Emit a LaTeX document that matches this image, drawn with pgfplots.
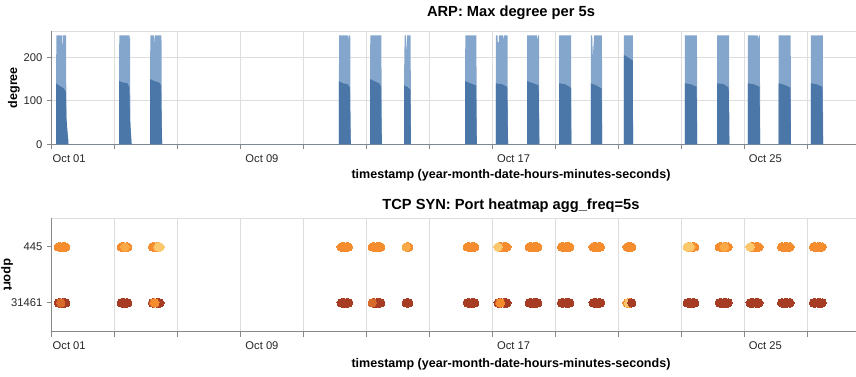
\documentclass[border=0pt]{standalone}
\usepackage{fontspec}
\setmainfont{Liberation Sans}
\usepackage{pgfplots}
\pgfplotsset{compat=1.18}
\definecolor{gridc}{HTML}{DDDDDD}
\definecolor{domc}{HTML}{888888}
\definecolor{barlight}{HTML}{84A6CC}
\definecolor{bardark}{HTML}{4A77A7}
\definecolor{or1}{HTML}{F58C2D}
\definecolor{or2}{HTML}{F9AA46}
\definecolor{ye1}{HTML}{FCC86E}
\definecolor{rd1}{HTML}{A53C23}
\definecolor{rd2}{HTML}{D86A2C}
\pgfplotsset{
  dot/.style={only marks, mark=*, mark size=3.1pt, color=#1, mark options={solid, draw=#1, fill=#1, line width=0pt}},
}
\pgfplotsset{
  common/.style={
    scale only axis, width=688.5pt, height=85pt,
    xmin=0, xmax=29.18,
    axis x line*=bottom, axis y line*=left,
    axis line style={domc, line width=0.75pt, -},
    tick style={domc, line width=0.75pt},
    tick align=outside, major tick length=3.75pt,
    xtick={0,2,...,28},
    xticklabels={\hspace{-3pt}Oct 01,,,Oct 09,,,,Oct 17,,,,Oct 25,,,},
    xmajorgrids, grid style={gridc, line width=0.75pt},
    ticklabel style={font=\fontsize{8.4}{10}\selectfont, text=black!85},
    xticklabel style={anchor=base west, yshift=-9.75pt},
    /pgf/number format/assume math mode=true,
    every axis x label/.style={at={(axis description cs:0.5,0)}, anchor=base, yshift=-25.5pt,
      font=\bfseries\fontsize{9.4}{11}\selectfont},
    every axis title/.style={at={(axis description cs:0.5,1)}, anchor=base,
      font=\bfseries\fontsize{11}{13}\selectfont},
  }
}
\begin{document}
\begin{tikzpicture}
\useasboundingbox (0,0) rectangle (642pt,-282pt);
\clip (0,0) rectangle (642pt,-282pt);
% ---------- top chart ----------
\begin{axis}[common,
  at={(39pt,-23.25pt)}, anchor=north west,
  ymin=0, ymax=260, ytick={0,100,200},
  ymajorgrids,
  title={ARP: Max degree per 5s},
  title style={yshift=11.25pt},
  xlabel={timestamp (year-month-date-hours-minutes-seconds)},
  ylabel={degree},
  every axis y label/.style={at={(axis description cs:-0.0414,0.5)}, anchor=center, rotate=90,
      font=\bfseries\fontsize{9.4}{11}\selectfont},
]
\draw[gridc, line width=0.75pt] (rel axis cs:0,1) -- (rel axis cs:1,1);
\addplot[fill=barlight, draw=none] coordinates {
(0.13,0)(0.13,160)(0.14,250)(0.31,250)(0.325,212)(0.34,250)(0.45,250)(0.455,60)(0.49,25)(0.52,10)(0.52,0)
(2.13,0)(2.13,170)(2.14,250)(2.46,250)(2.47,230)(2.48,250)(2.49,60)(2.51,25)(2.53,0)
(3.12,0)(3.12,200)(3.13,250)(3.24,250)(3.255,228)(3.27,250)(3.48,250)(3.49,40)(3.50,0)
(9.12,0)(9.12,160)(9.13,250)(9.40,250)(9.41,240)(9.43,250)(9.48,250)(9.49,30)(9.50,0)
(10.11,0)(10.11,200)(10.12,250)(10.47,250)(10.48,30)(10.49,0)
(11.19,0)(11.19,150)(11.21,250)(11.25,250)(11.27,205)(11.29,250)(11.40,250)(11.41,0)
(13.13,0)(13.13,180)(13.14,250)(13.49,250)(13.50,20)(13.51,0)
(14.11,0)(14.11,250)(14.16,250)(14.17,232)(14.20,235)(14.21,250)(14.34,250)(14.35,236)(14.37,250)(14.48,250)(14.49,20)(14.50,0)
(15.10,0)(15.10,250)(15.41,250)(15.43,238)(15.45,250)(15.48,250)(15.49,0)
(16.12,0)(16.12,250)(16.50,250)(16.51,0)
(17.13,0)(17.13,250)(17.17,250)(17.19,200)(17.22,235)(17.23,250)(17.48,250)(17.49,0)
(18.18,0)(18.18,250)(18.46,250)(18.47,0)
(20.12,0)(20.12,250)(20.50,250)(20.51,0)
(21.14,0)(21.14,250)(21.52,250)(21.53,0)
(22.12,0)(22.12,250)(22.43,250)(22.45,240)(22.47,250)(22.50,250)(22.51,0)
(23.10,0)(23.10,250)(23.48,250)(23.49,0)
(24.12,0)(24.12,250)(24.50,250)(24.51,0)
} \closedcycle;
\addplot[fill=bardark, draw=none] coordinates {
(0.13,0)(0.13,140)(0.20,136)(0.30,132)(0.38,128)(0.44,120)(0.46,60)(0.50,22)(0.52,0)
(2.13,0)(2.13,145)(2.25,142)(2.40,140)(2.46,130)(2.48,50)(2.51,22)(2.53,0)
(3.12,0)(3.12,150)(3.25,145)(3.40,142)(3.47,135)(3.49,30)(3.50,0)
(9.12,0)(9.12,145)(9.25,140)(9.40,138)(9.47,130)(9.49,25)(9.50,0)
(10.11,0)(10.11,150)(10.25,145)(10.40,140)(10.46,132)(10.48,25)(10.49,0)
(11.19,0)(11.19,135)(11.30,132)(11.39,125)(11.41,0)
(13.13,0)(13.13,145)(13.30,140)(13.48,135)(13.50,20)(13.51,0)
(14.11,0)(14.11,140)(14.30,138)(14.47,132)(14.49,20)(14.50,0)
(15.10,0)(15.10,145)(15.30,140)(15.47,135)(15.49,0)
(16.12,0)(16.12,140)(16.30,138)(16.49,130)(16.51,0)
(17.13,0)(17.13,140)(17.30,135)(17.47,128)(17.49,0)
(18.18,0)(18.18,205)(18.30,200)(18.46,192)(18.47,0)
(20.12,0)(20.12,140)(20.30,138)(20.49,132)(20.51,0)
(21.14,0)(21.14,140)(21.35,138)(21.51,130)(21.53,0)
(22.12,0)(22.12,140)(22.30,138)(22.49,132)(22.51,0)
(23.10,0)(23.10,140)(23.30,136)(23.47,130)(23.49,0)
(24.12,0)(24.12,140)(24.30,138)(24.49,132)(24.51,0)
} \closedcycle;
\end{axis}
% ---------- bottom chart ----------
\begin{axis}[common,
  at={(39pt,-163.7pt)}, anchor=north west,
  ymin=-0.513, ymax=1.513, ytick={0,1}, yticklabels={31461,445},
  title={TCP SYN: Port heatmap agg\_freq=5s},
  title style={yshift=6.75pt},
  xlabel={timestamp (year-month-date-hours-minutes-seconds)},
  every axis x label/.style={at={(axis description cs:0.5,0)}, anchor=base, yshift=-27pt,
      font=\bfseries\fontsize{9.4}{11}\selectfont},
  ylabel={dport},
  every axis y label/.style={at={(axis description cs:-0.049,0.5)}, anchor=center, rotate=-90,
      font=\bfseries\fontsize{9.4}{11}\selectfont},
]
\draw[gridc, line width=0.75pt] (rel axis cs:0,1) -- (rel axis cs:1,1);
% port 445
\addplot[dot=or1] coordinates {
(0.20,1)(0.24,1)(0.28,1)(0.32,1)(0.36,1)(0.40,1)(0.44,1)
(2.20,1)(2.24,1)(2.28,1)(2.32,1)(2.36,1)(2.41,1)
(3.19,1)(3.23,1)(3.27,1)(3.31,1)(3.35,1)(3.39,1)(3.43,1)
(9.19,1)(9.23,1)(9.27,1)(9.31,1)(9.35,1)(9.39,1)(9.43,1)
(10.18,1)(10.22,1)(10.26,1)(10.30,1)(10.34,1)(10.38,1)(10.42,1)(10.45,1)
(11.26,1)(11.30,1)(11.34,1)
(13.20,1)(13.24,1)(13.28,1)(13.32,1)(13.36,1)(13.40,1)(13.44,1)
(14.18,1)(14.22,1)(14.26,1)(14.30,1)(14.34,1)(14.38,1)(14.42,1)(14.46,1)
(15.17,1)(15.21,1)(15.25,1)(15.29,1)(15.33,1)(15.37,1)(15.41,1)(15.44,1)
(16.19,1)(16.23,1)(16.27,1)(16.31,1)(16.35,1)(16.39,1)(16.43,1)(16.46,1)
(17.20,1)(17.24,1)(17.28,1)(17.32,1)(17.36,1)(17.40,1)(17.44,1)
(18.28,1)(18.32,1)(18.36,1)(18.40,1)(18.43,1)
(20.19,1)(20.23,1)(20.27,1)(20.31,1)(20.35,1)(20.39,1)(20.43,1)
(21.21,1)(21.25,1)(21.29,1)(21.33,1)(21.37,1)(21.41,1)(21.45,1)(21.49,1)
(22.19,1)(22.23,1)(22.27,1)(22.31,1)(22.35,1)(22.39,1)(22.43,1)(22.47,1)
(23.19,1)(23.23,1)(23.27,1)(23.31,1)(23.35,1)(23.39,1)(23.43,1)(23.46,1)
(24.20,1)(24.24,1)(24.28,1)(24.32,1)(24.36,1)(24.40,1)(24.44,1)(24.48,1)
};
\addplot[dot=or2] coordinates {
(2.32,1)(3.35,1)(11.26,1)(20.23,1)(20.31,1)(21.37,1)
};
\addplot[dot=ye1] coordinates {
(3.39,1)(3.43,1)(14.18,1)(20.19,1)(20.27,1)(22.19,1)
};
% port 31461
\addplot[dot=rd1] coordinates {
(0.20,0)(0.24,0)(0.28,0)(0.32,0)(0.36,0)(0.40,0)(0.44,0)
(2.20,0)(2.24,0)(2.28,0)(2.32,0)(2.36,0)(2.41,0)
(3.19,0)(3.23,0)(3.27,0)(3.31,0)(3.35,0)(3.39,0)(3.43,0)
(9.19,0)(9.23,0)(9.27,0)(9.31,0)(9.35,0)(9.39,0)(9.43,0)
(10.18,0)(10.22,0)(10.26,0)(10.30,0)(10.34,0)(10.38,0)(10.42,0)(10.45,0)
(11.26,0)(11.30,0)(11.34,0)
(13.20,0)(13.24,0)(13.28,0)(13.32,0)(13.36,0)(13.40,0)(13.44,0)
(14.18,0)(14.22,0)(14.26,0)(14.30,0)(14.34,0)(14.38,0)(14.42,0)(14.46,0)
(15.17,0)(15.21,0)(15.25,0)(15.29,0)(15.33,0)(15.37,0)(15.41,0)(15.44,0)
(16.19,0)(16.23,0)(16.27,0)(16.31,0)(16.35,0)(16.39,0)(16.43,0)(16.46,0)
(17.20,0)(17.24,0)(17.28,0)(17.32,0)(17.36,0)(17.40,0)(17.44,0)
(20.19,0)(20.23,0)(20.27,0)(20.31,0)(20.35,0)(20.39,0)(20.43,0)
(21.21,0)(21.25,0)(21.29,0)(21.33,0)(21.37,0)(21.41,0)(21.45,0)(21.49,0)
(22.19,0)(22.23,0)(22.27,0)(22.31,0)(22.35,0)(22.39,0)(22.43,0)(22.47,0)
(23.19,0)(23.23,0)(23.27,0)(23.31,0)(23.35,0)(23.39,0)(23.43,0)(23.46,0)
(24.20,0)(24.24,0)(24.28,0)(24.32,0)(24.36,0)(24.40,0)(24.44,0)(24.48,0)
};
\addplot[dot=rd2] coordinates {
(0.28,0)(3.23,0)(10.18,0)(14.22,0)
};
\addplot[dot=or1] coordinates {
(3.27,0)(14.26,0)(18.28,0)(18.36,0)(18.40,0)
};
\addplot[dot=ye1] coordinates {
(18.32,0)
};
\addplot[dot=rd1] coordinates {
(18.43,0)
};
\end{axis}
\end{tikzpicture}
\end{document}
